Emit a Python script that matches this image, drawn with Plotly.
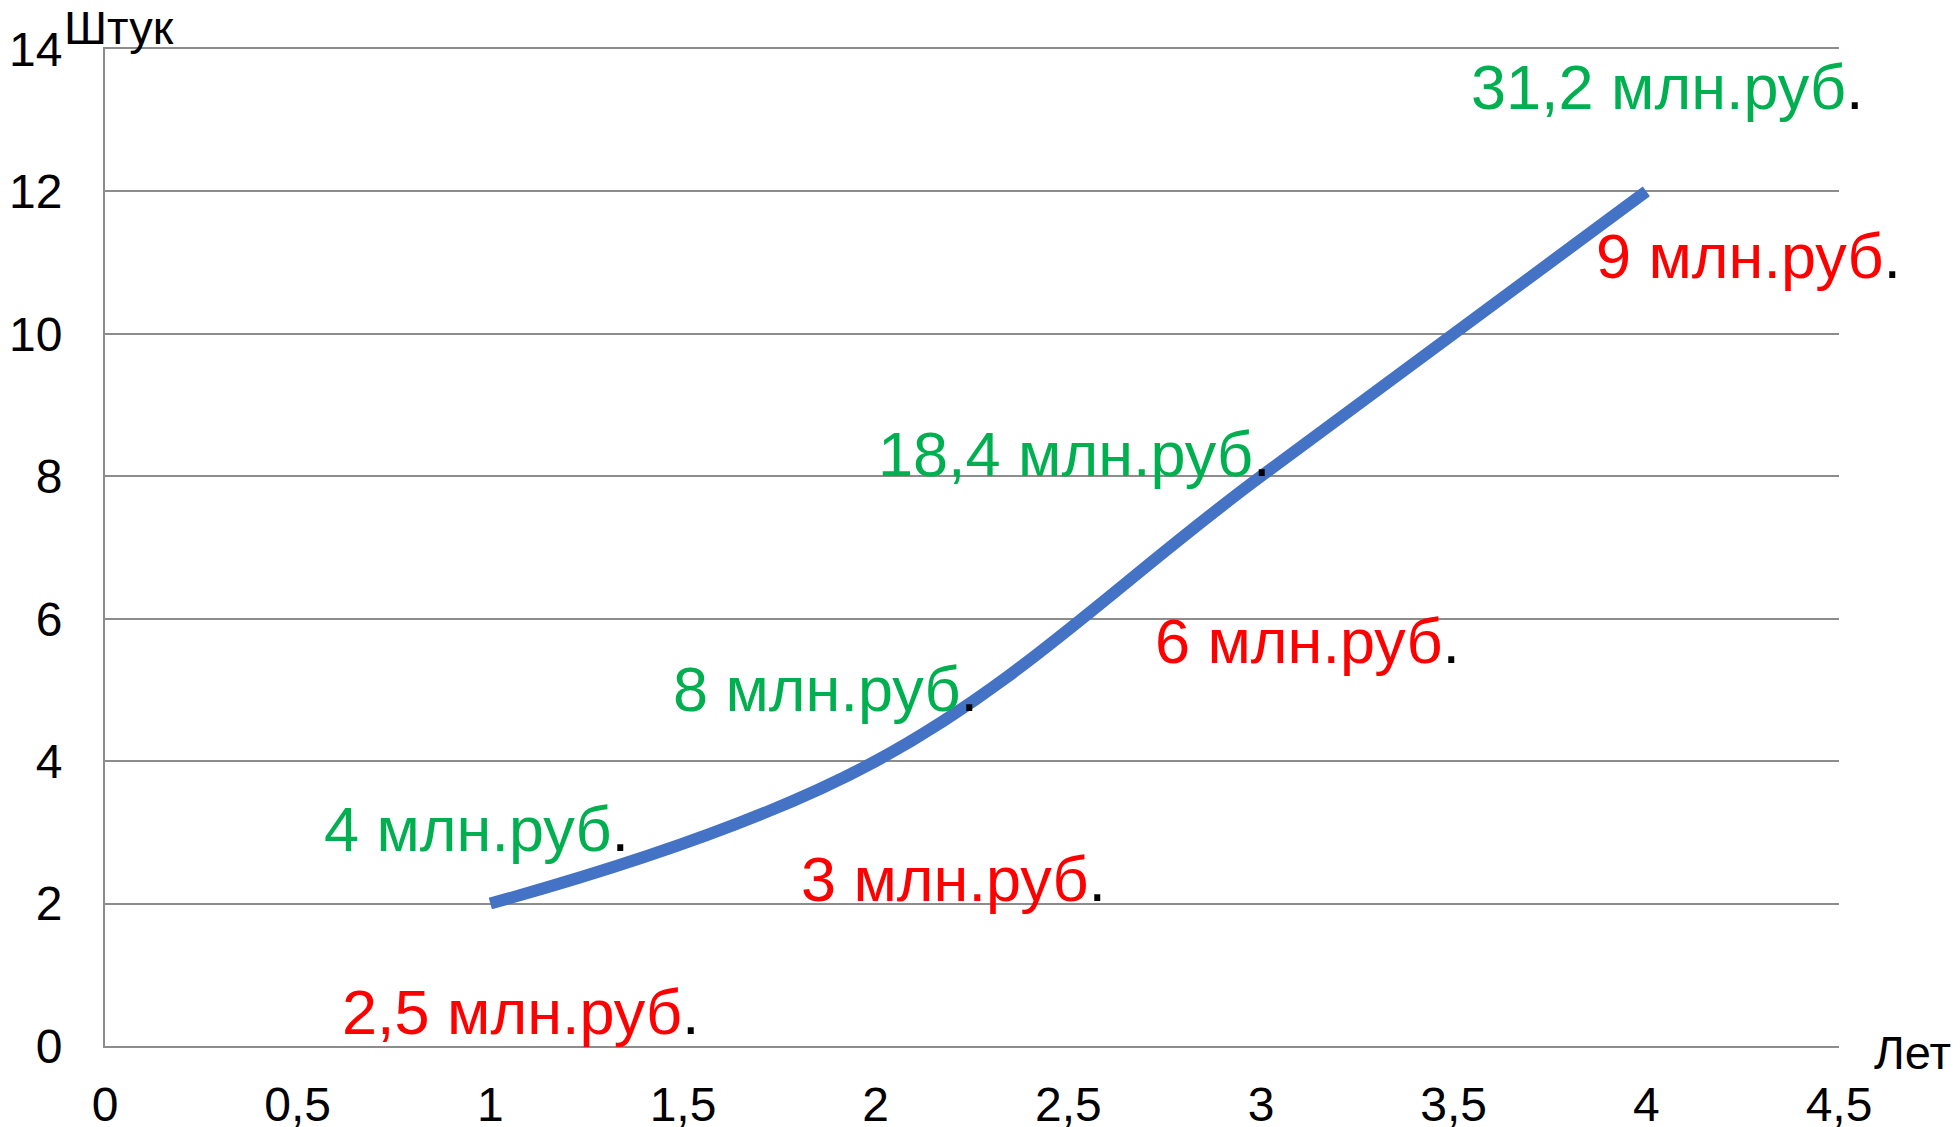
import plotly.graph_objects as go

# Data
years = [1, 2, 3, 4]
units = [2, 4, 8, 12]

x_tick_vals = [0, 0.5, 1, 1.5, 2, 2.5, 3, 3.5, 4, 4.5]
x_tick_text = ["0", "0,5", "1", "1,5", "2", "2,5", "3", "3,5", "4", "4,5"]
y_tick_vals = [0, 2, 4, 6, 8, 10, 12, 14]
y_tick_text = ["0", "2", "4", "6", "8", "10", "12", "14"]

green_labels = ["4 млн.руб", "8 млн.руб", "18,4 млн.руб", "31,2 млн.руб"]
red_labels = ["2,5 млн.руб", "3 млн.руб", "6 млн.руб", "9 млн.руб"]

# label anchor positions (layout)
green_pos = [(0.563, 3.05), (1.47, 5.01), (2.0, 8.31), (3.54, 13.47)]
red_pos = [(0.61, 0.48), (1.80, 2.35), (2.72, 5.69), (3.865, 11.1)]

FONT = "Liberation Sans, Arial, sans-serif"
GREEN = "#00B050"
RED = "#FF0000"
GRID = "#8C8C8C"

W, H = 1960, 1127
ML, MR, MT, MB = 105, 121, 49, 81

fig = go.Figure()
fig.add_trace(go.Scatter(
    x=years, y=units, mode="lines",
    line=dict(color="#4472C4", width=12, shape="spline", smoothing=1.1),
    hoverinfo="skip", showlegend=False,
))

annotations = []
for txt, (ax, ay) in zip(green_labels, green_pos):
    annotations.append(dict(
        x=ax, y=ay, xref="x", yref="y", xanchor="left", yanchor="middle",
        text=txt + "<span style='color:black'>.</span>", showarrow=False,
        font=dict(family=FONT, size=63, color=GREEN)))
for txt, (ax, ay) in zip(red_labels, red_pos):
    annotations.append(dict(
        x=ax, y=ay, xref="x", yref="y", xanchor="left", yanchor="middle",
        text=txt + "<span style='color:black'>.</span>", showarrow=False,
        font=dict(family=FONT, size=63, color=RED)))

pw = W - ML - MR
ph = H - MT - MB
# axis titles in paper coordinates
annotations.append(dict(x=(62 - ML) / pw, y=(H - MB - 27) / ph, xref="paper", yref="paper",
                        xanchor="left", yanchor="middle",
                        text="Штук", showarrow=False, font=dict(family=FONT, size=47, color="black")))
annotations.append(dict(x=(1872 - ML) / pw, y=(H - MB - 1052) / ph, xref="paper", yref="paper",
                        xanchor="left", yanchor="middle",
                        text="Лет", showarrow=False, font=dict(family=FONT, size=47, color="black")))

fig.update_layout(
    width=W, height=H,
    margin=dict(l=ML, r=MR, t=MT, b=MB, autoexpand=False),
    paper_bgcolor="white", plot_bgcolor="white",
    font=dict(family=FONT, size=48, color="black"),
    annotations=annotations,
    showlegend=False,
)
fig.update_xaxes(
    range=[0, 4.5], tickvals=x_tick_vals, ticktext=x_tick_text,
    showgrid=False, zeroline=False, showline=True, mirror=True,
    linecolor=GRID, linewidth=2,
    ticks="", ticklabelstandoff=15, automargin=False,
    tickfont=dict(family=FONT, size=48, color="black"),
)
fig.update_yaxes(
    range=[0, 14], tickvals=y_tick_vals, ticktext=y_tick_text,
    showgrid=True, gridcolor=GRID, gridwidth=2,
    zeroline=False, showline=True, linecolor=GRID, linewidth=2,
    ticks="", ticklabelstandoff=31, automargin=False,
    tickfont=dict(family=FONT, size=48, color="black"),
)

fig.write_html(
    "out.html",
    config={"displayModeBar": False},
    post_script="document.body.style.margin='0';document.body.style.overflow='hidden';",
)
